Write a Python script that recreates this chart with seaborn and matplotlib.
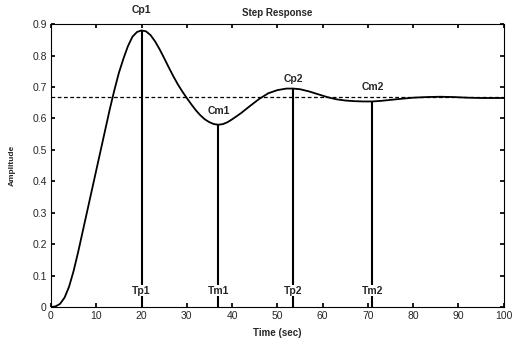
import matplotlib
matplotlib.use("Agg")
import matplotlib.pyplot as plt
import seaborn as sns
import pandas as pd

# Step response
time = [0, 1, 2, 3, 4, 5, 6, 7, 8, 9, 10, 11, 12, 13, 14, 15, 16, 17, 18, 19, 20,
        21, 22, 23, 24, 25, 26, 27, 28, 29, 30, 31, 32, 33, 34, 35, 36, 37, 38, 39,
        40, 42, 44, 46, 48, 50, 52, 53.5, 55, 57, 59, 61, 63, 65, 67, 69, 71, 73,
        75, 77, 80, 83, 86, 89, 92, 95, 100]
amplitude = [0.0, 0.002, 0.01, 0.03, 0.065, 0.115, 0.175, 0.24, 0.305, 0.37, 0.435,
             0.50, 0.565, 0.63, 0.69, 0.745, 0.79, 0.83, 0.86, 0.875, 0.88,
             0.877, 0.865, 0.845, 0.82, 0.792, 0.763, 0.735, 0.709, 0.686, 0.665, 0.645,
             0.626, 0.61, 0.597, 0.588, 0.582, 0.58, 0.582, 0.588,
             0.597, 0.617, 0.64, 0.662, 0.68, 0.69, 0.695, 0.695, 0.693, 0.686,
             0.677, 0.668, 0.661, 0.657, 0.655, 0.654, 0.654, 0.656,
             0.659, 0.662, 0.666, 0.668, 0.669, 0.668, 0.666, 0.665, 0.665]
steady_value = 0.667

# Marked peaks / valleys
mark_time = [20, 37, 53.5, 71]
mark_value = [0.88, 0.58, 0.695, 0.654]
top_labels = ["Cp1", "Cm1", "Cp2", "Cm2"]
bottom_labels = ["Tp1", "Tm1", "Tp2", "Tm2"]

df = pd.DataFrame({"Time": time, "Amplitude": amplitude})

sns.set_theme(style="white")
plt.rcParams["font.family"] = ["Liberation Sans", "DejaVu Sans"]

fig = plt.figure(figsize=(5.12, 3.4), dpi=100)
ax = fig.add_axes([0.0996, 0.097, 0.884, 0.832])

sns.lineplot(data=df, x="Time", y="Amplitude", ax=ax, color="black", linewidth=1.3)
ax.axhline(steady_value, color="black", linestyle=(0, (3, 2)), linewidth=0.9)
ax.vlines(mark_time, 0, mark_value, color="black", linewidth=1.5)

label_offsets = [0.055, 0.045, 0.03, 0.045]
for t, v, lab, off in zip(mark_time, mark_value, top_labels, label_offsets):
    y = 0.93 if lab == "Cp1" else v + off
    ax.text(t, y, lab, ha="center", va="bottom" if lab == "Cp1" else "center",
            fontsize=7.5, fontweight="bold", clip_on=False)
for t, lab in zip(mark_time, bottom_labels):
    ax.text(t, 0.052, lab, ha="center", va="center", fontsize=7.5, fontweight="bold",
            bbox=dict(facecolor="white", edgecolor="none", pad=0.5))

ax.set_xlim(0, 100)
ax.set_ylim(0, 0.9)
ax.set_xticks(range(0, 101, 10))
ax.set_yticks([i / 10 for i in range(10)])
ax.set_yticklabels(["0"] + [f"0.{i}" for i in range(1, 10)])
ax.tick_params(direction="in", length=3, labelsize=7.5, top=True, right=True,
               bottom=True, left=True, pad=3, color="black")
for s in ax.spines.values():
    s.set_color("black")
    s.set_linewidth(0.8)
ax.set_xlabel("Time (sec)", fontsize=7, fontweight="bold", labelpad=5)
ax.set_ylabel("Amplitude", fontsize=6, fontweight="bold", labelpad=12)
ax.set_title("Step Response", fontsize=7, fontweight="bold", pad=6)

fig.savefig("out.png", dpi=100)
